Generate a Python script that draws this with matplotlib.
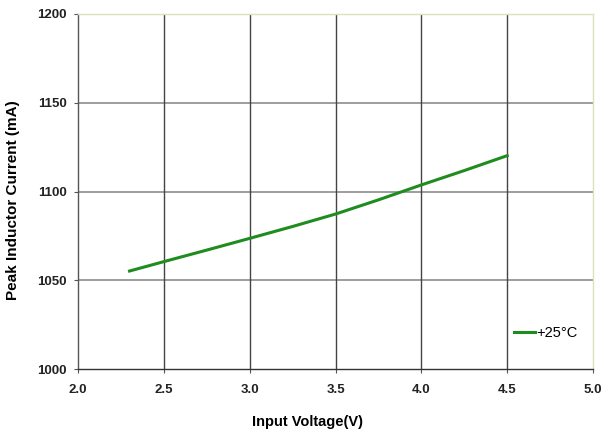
import matplotlib
matplotlib.use("Agg")
from matplotlib import pyplot as plt

# values
voltage = [2.3, 2.5, 2.75, 3.0, 3.25, 3.5, 3.75, 4.0, 4.25, 4.5]
current = [1055.2, 1060.5, 1067.0, 1073.6, 1080.3, 1087.3, 1095.3, 1103.7, 1111.8, 1120.2]
series_label = "+25°C"
x_ticks = [2.0, 2.5, 3.0, 3.5, 4.0, 4.5, 5.0]
y_ticks = [1000, 1050, 1100, 1150, 1200]

plt.rcParams['font.family'] = ['Liberation Sans', 'DejaVu Sans']

fig = plt.figure(figsize=(6.12, 4.32), dpi=100)
ax = fig.add_axes([0.1275, 0.1458, 0.8415, 0.8218])

ax.set_xlim(2.0, 5.0)
ax.set_ylim(1000, 1200)
ax.set_xticks(x_ticks)
ax.set_yticks(y_ticks)
ax.set_xticklabels(["%.1f" % v for v in x_ticks], fontsize=9.5, fontweight='bold', color='#222222')
ax.set_yticklabels([str(v) for v in y_ticks], fontsize=9.5, fontweight='bold', color='#222222')

# grid: horizontal lighter gray, vertical darker
for yv in y_ticks[1:-1]:
    ax.axhline(yv, color='#8c8c8c', linewidth=1.2, zorder=1)
for xv in x_ticks[1:-1]:
    ax.axvline(xv, color='#444444', linewidth=1.0, zorder=1)

ax.spines['left'].set_color('#555555')
ax.spines['bottom'].set_color('#333333')
ax.spines['top'].set_color('#d8e4bc')
ax.spines['right'].set_color('#d8e4bc')
for s in ax.spines.values():
    s.set_linewidth(1.0)
ax.tick_params(axis='both', length=3, color='#555555')
ax.tick_params(axis='x', pad=8)
ax.tick_params(axis='y', pad=5)

ax.plot(voltage, current, color='#1e8c1e', linewidth=2.2, label=series_label, zorder=3)

leg = ax.legend(loc='lower right', bbox_to_anchor=(0.995, 0.045), frameon=False,
                handlelength=1.4, handletextpad=0.1, fontsize=10.5)

ax.set_xlabel("Input Voltage(V)", fontsize=10.5, fontweight='bold', labelpad=14)
ax.xaxis.set_label_coords(0.445, -0.13)
ax.set_ylabel("Peak Inductor Current (mA)", fontsize=11, fontweight='bold')
ax.yaxis.set_label_coords(-0.112, 0.476)

fig.savefig("out.png", dpi=100)
